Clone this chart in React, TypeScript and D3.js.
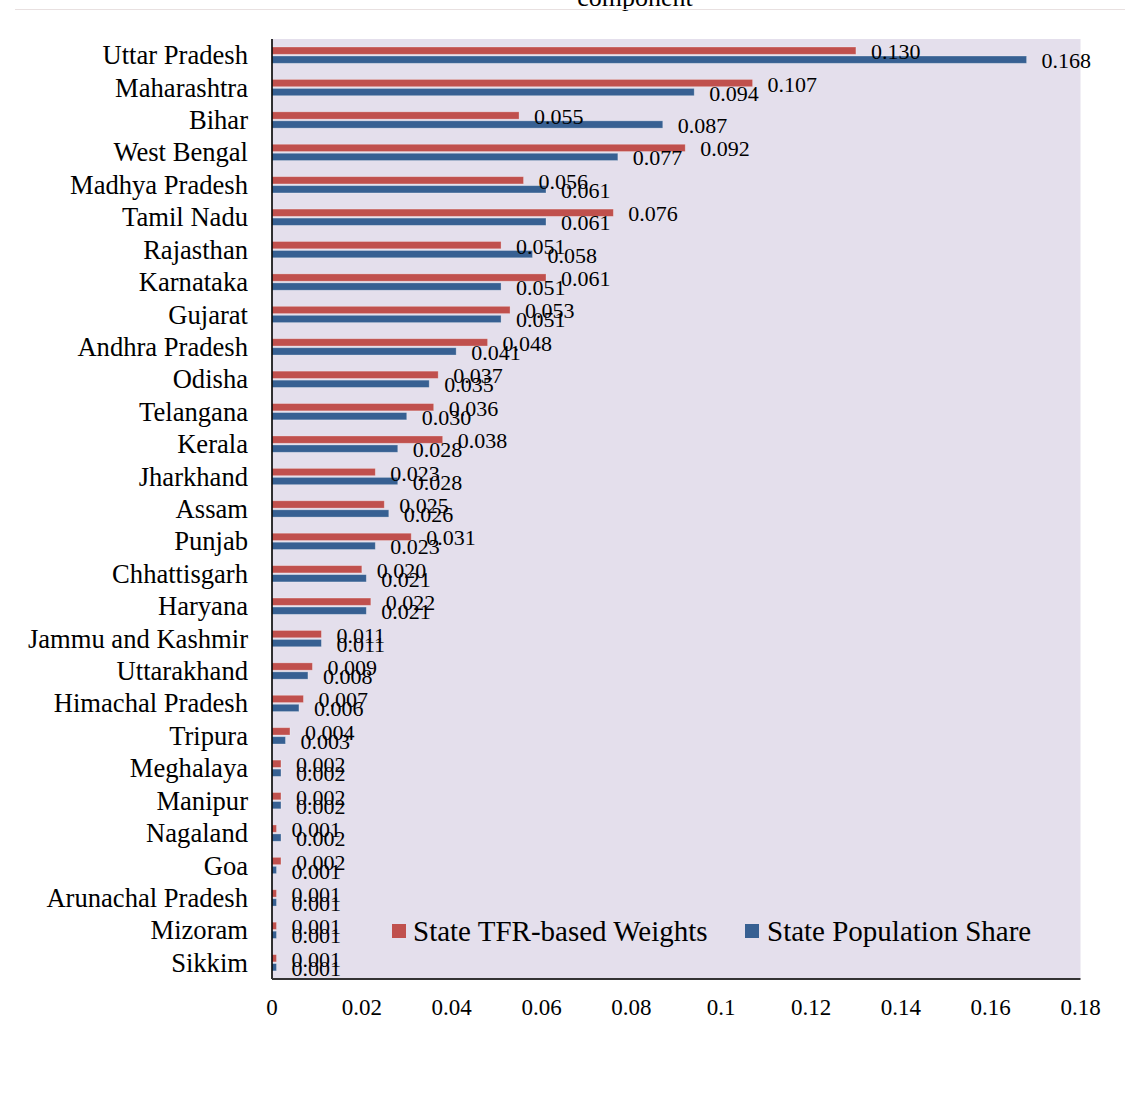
import React from "react";
import * as d3 from "d3";

// State names, top to bottom
const states = [
  "Uttar Pradesh", "Maharashtra", "Bihar", "West Bengal", "Madhya Pradesh",
  "Tamil Nadu", "Rajasthan", "Karnataka", "Gujarat", "Andhra Pradesh",
  "Odisha", "Telangana", "Kerala", "Jharkhand", "Assam", "Punjab",
  "Chhattisgarh", "Haryana", "Jammu and Kashmir", "Uttarakhand",
  "Himachal Pradesh", "Tripura", "Meghalaya", "Manipur", "Nagaland", "Goa",
  "Arunachal Pradesh", "Mizoram", "Sikkim",
];

// State TFR-based weights
const tfrWeights = [
  0.130, 0.107, 0.055, 0.092, 0.056, 0.076, 0.051, 0.061, 0.053, 0.048,
  0.037, 0.036, 0.038, 0.023, 0.025, 0.031, 0.020, 0.022, 0.011, 0.009,
  0.007, 0.004, 0.002, 0.002, 0.001, 0.002, 0.001, 0.001, 0.001,
];

// State population share
const popShare = [
  0.168, 0.094, 0.087, 0.077, 0.061, 0.061, 0.058, 0.051, 0.051, 0.041,
  0.035, 0.030, 0.028, 0.028, 0.026, 0.023, 0.021, 0.021, 0.011, 0.008,
  0.006, 0.003, 0.002, 0.002, 0.002, 0.001, 0.001, 0.001, 0.001,
];

const xTicks = [0, 0.02, 0.04, 0.06, 0.08, 0.1, 0.12, 0.14, 0.16, 0.18];

const seriesNames = ["State TFR-based Weights", "State Population Share"];

const RED = "#C0504D";
const BLUE = "#376092";
const PLOT_BG = "#E4DFEC";
const FONT = "'Liberation Serif', 'Times New Roman', serif";

export default function App() {
  const W = 1125;
  const H = 1095;
  const left = 272;
  const right = 1080.5;
  const top = 39;
  const bottom = 979;

  const x = d3.scaleLinear().domain([0, 0.18]).range([left, right]);
  const y = d3.scaleBand<string>().domain(states).range([top, bottom]).padding(0);

  const barH = 7.3;
  const fmt = (v: number) => v.toFixed(3);
  const tickFmt = (v: number) => String(+v.toFixed(2));

  return (
    <svg
      width={W}
      height={H}
      style={{ position: "absolute", left: 0, top: 0, background: "#fff" }}
      fontFamily={FONT}
    >
      {/* clipped second title line and rule */}
      <text x={635} y={6} textAnchor="middle" fontSize={26} fill="#000">
        component
      </text>
      <line x1={15} x2={W} y1={9.5} y2={9.5} stroke="#E8E0E0" strokeWidth={1} />

      {/* plot area */}
      <rect x={left} y={top} width={right - left} height={bottom - top} fill={PLOT_BG} />

      {states.map((s, i) => {
        const c = (y(s) as number) + y.bandwidth() / 2;
        const ry = c - 8.2;
        const by = c + 0.8;
        return (
          <g key={s}>
            <rect
              x={x(0)}
              y={ry}
              width={x(tfrWeights[i]) - x(0)}
              height={barH}
              fill={RED}
              stroke="rgba(255,255,255,0.35)"
              strokeWidth={0.8}
            />
            <rect
              x={x(0)}
              y={by}
              width={x(popShare[i]) - x(0)}
              height={barH}
              fill={BLUE}
              stroke="rgba(255,255,255,0.35)"
              strokeWidth={0.8}
            />
            <text
              x={x(tfrWeights[i]) + 15}
              y={ry + barH / 2 + 1}
              dominantBaseline="central"
              fontSize={22}
              fill="#000"
            >
              {fmt(tfrWeights[i])}
            </text>
            <text
              x={x(popShare[i]) + 15}
              y={by + barH / 2 + 1}
              dominantBaseline="central"
              fontSize={22}
              fill="#000"
            >
              {fmt(popShare[i])}
            </text>
            <text
              x={248}
              y={c}
              textAnchor="end"
              dominantBaseline="central"
              fontSize={26.6}
              fill="#000"
            >
              {s}
            </text>
          </g>
        );
      })}

      {/* axes */}
      <line x1={left} x2={left} y1={top} y2={bottom} stroke="#000" strokeWidth={1.6} />
      <line x1={left} x2={right} y1={bottom} y2={bottom} stroke="#333" strokeWidth={1.8} />
      {xTicks.map((t) => (
        <text
          key={t}
          x={x(t)}
          y={1007}
          textAnchor="middle"
          dominantBaseline="central"
          fontSize={23}
          fill="#000"
        >
          {tickFmt(t)}
        </text>
      ))}

      {/* legend */}
      <rect x={392} y={924} width={14} height={14} fill={RED} />
      <text x={413} y={941} fontSize={29} fill="#000">
        {seriesNames[0]}
      </text>
      <rect x={745} y={924} width={14} height={14} fill={BLUE} />
      <text x={767} y={941} fontSize={29} fill="#000">
        {seriesNames[1]}
      </text>
    </svg>
  );
}
